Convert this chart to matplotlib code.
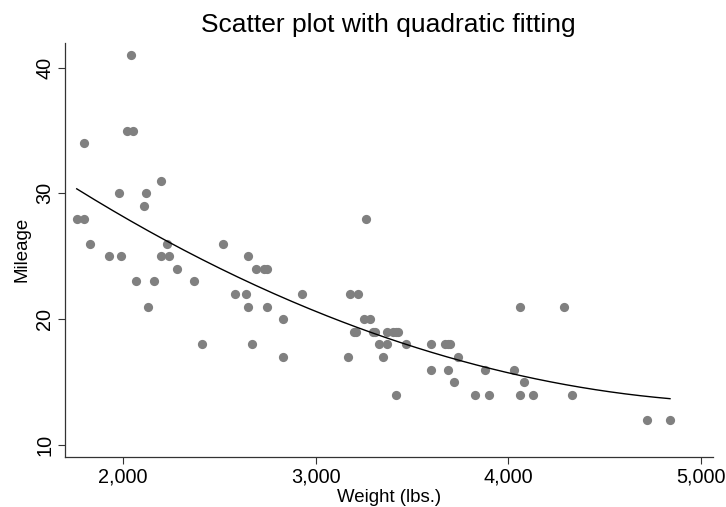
import numpy as np
import matplotlib
matplotlib.use("Agg")
import matplotlib.pyplot as plt
from matplotlib.ticker import FuncFormatter

plt.rcParams["font.family"] = ["Liberation Sans", "DejaVu Sans"]

# auto dataset: weight (lbs.) and mileage (mpg)
weight = [2930, 3350, 2640, 3250, 4080, 3670, 2230, 3280, 3880, 3400,
          4330, 3900, 4290, 2110, 3690, 3180, 3220, 2750, 3430, 2120,
          3600, 3600, 3740, 1800, 2650, 4840, 4720, 3830, 2580, 4060,
          3720, 3370, 4130, 2830, 4060, 3310, 3300, 3690, 3370, 2730,
          4030, 3260, 1800, 2200, 2520, 3330, 3700, 3470, 3210, 3200,
          3420, 2690, 2830, 2070, 2650, 2370, 2020, 2280, 2750, 2130,
          2240, 1760, 1980, 3420, 1830, 2050, 2410, 2200, 2670, 2160,
          2040, 1930, 1990, 3170]
mpg = [22, 17, 22, 20, 15, 18, 26, 20, 16, 19,
       14, 14, 21, 29, 16, 22, 22, 24, 19, 30,
       18, 16, 17, 28, 21, 12, 12, 14, 22, 14,
       15, 18, 14, 20, 21, 19, 19, 18, 19, 24,
       16, 28, 34, 25, 26, 18, 18, 18, 19, 19,
       19, 24, 17, 23, 25, 23, 35, 24, 21, 21,
       25, 28, 30, 14, 26, 35, 18, 31, 18, 23,
       41, 25, 25, 17]

x = np.array(weight, dtype=float)
y = np.array(mpg, dtype=float)

# quadratic fit, like Stata's qfit
coef = np.polyfit(x, y, 2)
xs = np.linspace(x.min(), x.max(), 200)
ys = np.polyval(coef, xs)

fig = plt.figure(figsize=(7.26, 5.07), dpi=100)
ax = fig.add_axes([0.0895, 0.0992, 0.892, 0.816])

ax.scatter(x, y, s=44, color="#808080", linewidths=0, zorder=2)
ax.plot(xs, ys, color="black", lw=1.0, zorder=3)

ax.set_xlim(1699, 5061)
ax.set_ylim(9.07, 41.96)
ax.set_xticks([2000, 3000, 4000, 5000])
ax.set_yticks([10, 20, 30, 40])
ax.xaxis.set_major_formatter(FuncFormatter(lambda v, p: f"{int(v):,}"))

for side in ["top", "right"]:
    ax.spines[side].set_visible(False)
for side in ["left", "bottom"]:
    ax.spines[side].set_color("#333333")
    ax.spines[side].set_linewidth(0.9)

ax.tick_params(axis="both", length=4.8, width=0.8, color="#333333",
               labelsize=14.3)
ax.tick_params(axis="x", pad=3)
ax.tick_params(axis="y", pad=3)
for lab in ax.get_yticklabels():
    lab.set_rotation(90)
    lab.set_va("center")

ax.set_xlabel("Weight (lbs.)", fontsize=13.4, labelpad=1.5)
ax.set_ylabel("Mileage", fontsize=13.4, labelpad=3)
ax.set_title("Scatter plot with quadratic fitting", fontsize=19, pad=8)

fig.savefig("out.png", dpi=100)
